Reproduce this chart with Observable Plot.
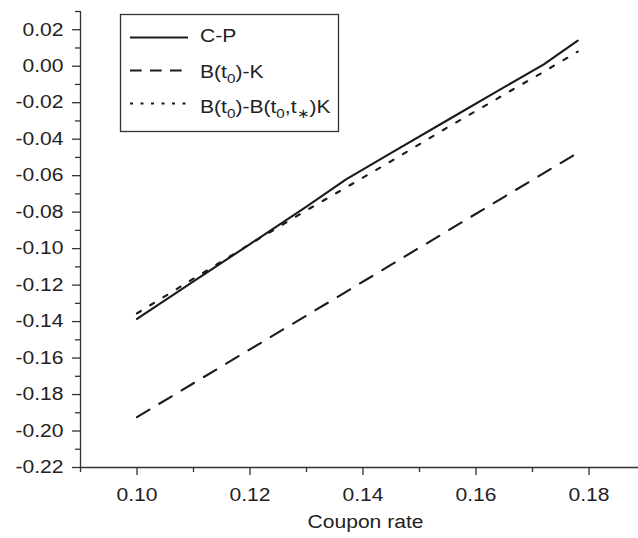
<!DOCTYPE html>
<html><head><meta charset="utf-8">
<script src="https://cdn.jsdelivr.net/npm/d3@7"></script>
<script src="https://cdn.jsdelivr.net/npm/@observablehq/plot@0.6"></script>
<style>body{margin:0;background:#fff}</style>
</head><body><div id="chart"></div>
<script>
// Data
const coupon = [0.100, 0.110, 0.120, 0.130, 0.137, 0.145, 0.155, 0.165, 0.172, 0.178];
const cp     = [-0.1385, -0.1180, -0.0975, -0.0770, -0.0620, -0.0475, -0.0295, -0.0115, 0.0010, 0.0140];
const bK     = [-0.1924, -0.1738, -0.1552, -0.1367, -0.1237, -0.1088, -0.0902, -0.0716, -0.0586, -0.0475];
const bBK    = [-0.1355, -0.1165, -0.0975, -0.0790, -0.0665, -0.0520, -0.0335, -0.0155, -0.0030, 0.0080];
const seriesLabels = [
  [["C-P", false]],
  [["B(t", false], ["0", true], [")-K", false]],
  [["B(t", false], ["0", true], [")-B(t", false], ["0", true], [",t", false], ["\u2217", true], [")K", false]]
];
const xTicks = [0.10, 0.12, 0.14, 0.16, 0.18];
const xMinor = [0.09, 0.11, 0.13, 0.15, 0.17];
const yTicks = [-0.22, -0.20, -0.18, -0.16, -0.14, -0.12, -0.10, -0.08, -0.06, -0.04, -0.02, 0.00, 0.02];
const yMinor = [-0.21, -0.19, -0.17, -0.15, -0.13, -0.11, -0.09, -0.07, -0.05, -0.03, -0.01, 0.01, 0.03];
const xLabel = "Coupon rate";

const rows = vals => coupon.map((x, i) => ({x, y: vals[i]}));
const font = "'Liberation Sans', Arial, Helvetica, sans-serif";
const ink = "#1a1a1a";
const axisInk = "#333";
const stretch = 1.17;
const dashPlot = ["none", "14.5,11.5", "4.5,11"];
const dashLegend = ["none", "11.7,8.3", "3,7.5"];

const plot = Plot.plot({
  width: 638, height: 538,
  marginLeft: 80, marginRight: 0, marginTop: 11, marginBottom: 71,
  x: {domain: [0.09, 0.18876], label: null},
  y: {domain: [-0.22, 0.03], label: null},
  style: {fontFamily: font, fontSize: "18px", color: "#222", background: "#fff", overflow: "visible"},
  marks: [
    Plot.axisX({ticks: xTicks, tickSize: 8, tickPadding: 13, tickFormat: d => d.toFixed(2), label: null, stroke: axisInk, strokeWidth: 1.3}),
    Plot.axisX({ticks: xMinor, tickSize: 5, tickFormat: () => "", label: null, stroke: axisInk, strokeWidth: 1.3}),
    Plot.axisY({ticks: yTicks, tickSize: 8, tickPadding: 9, tickFormat: d => d.toFixed(2), label: null, stroke: axisInk, strokeWidth: 1.3}),
    Plot.axisY({ticks: yMinor, tickSize: 5, tickFormat: () => "", label: null, stroke: axisInk, strokeWidth: 1.3}),
    Plot.ruleY([-0.22], {stroke: axisInk, strokeWidth: 1.3}),
    Plot.ruleX([0.09], {stroke: axisInk, strokeWidth: 1.3}),
    Plot.line(rows(bK), {x: "x", y: "y", stroke: ink, strokeWidth: 2.1, strokeDasharray: dashPlot[1]}),
    Plot.line(rows(bBK), {x: "x", y: "y", stroke: ink, strokeWidth: 2.1, strokeDasharray: dashPlot[2]}),
    Plot.line(rows(cp), {x: "x", y: "y", stroke: ink, strokeWidth: 2.1}),
    Plot.text([xLabel], {text: d => d, frameAnchor: "bottom", dy: 60, dx: 6, fill: "#222"})
  ]
});
document.getElementById("chart").appendChild(plot);

// Legend box
const svg = d3.select(plot);
const lg = svg.append("g").attr("font-family", font).attr("font-size", 18).attr("fill", "#222")
  .attr("text-anchor", "start");
lg.append("rect").attr("x", 120.5).attr("y", 14.5).attr("width", 218).attr("height", 117)
  .attr("fill", "#fff").attr("stroke", axisInk).attr("stroke-width", 1.3);
const lineY = [37.5, 70.5, 103.5];
const textY = [41.8, 78.3, 113.3];
seriesLabels.forEach((parts, i) => {
  lg.append("line").attr("x1", 130).attr("x2", 188).attr("y1", lineY[i]).attr("y2", lineY[i])
    .attr("stroke", ink).attr("stroke-width", 2.1)
    .attr("stroke-dasharray", dashLegend[i] === "none" ? null : dashLegend[i]);
  const t = lg.append("text").attr("x", 200).attr("y", textY[i]);
  let shifted = false;
  parts.forEach(([s, sub]) => {
    const ts = t.append("tspan").text(s);
    if (sub && !shifted) { ts.attr("dy", 5).attr("font-size", 13); shifted = true; }
    else if (sub) { ts.attr("font-size", 13); }
    else if (!sub && shifted) { ts.attr("dy", -5); shifted = false; }
  });
});

// The reference type is wide: stretch every text's glyphs horizontally
svg.selectAll("text").each(function () {
  if (!this.textContent) return;
  const len = this.getComputedTextLength();
  if (len > 0) d3.select(this).attr("textLength", len * stretch).attr("lengthAdjust", "spacingAndGlyphs");
});
</script>
</body></html>
